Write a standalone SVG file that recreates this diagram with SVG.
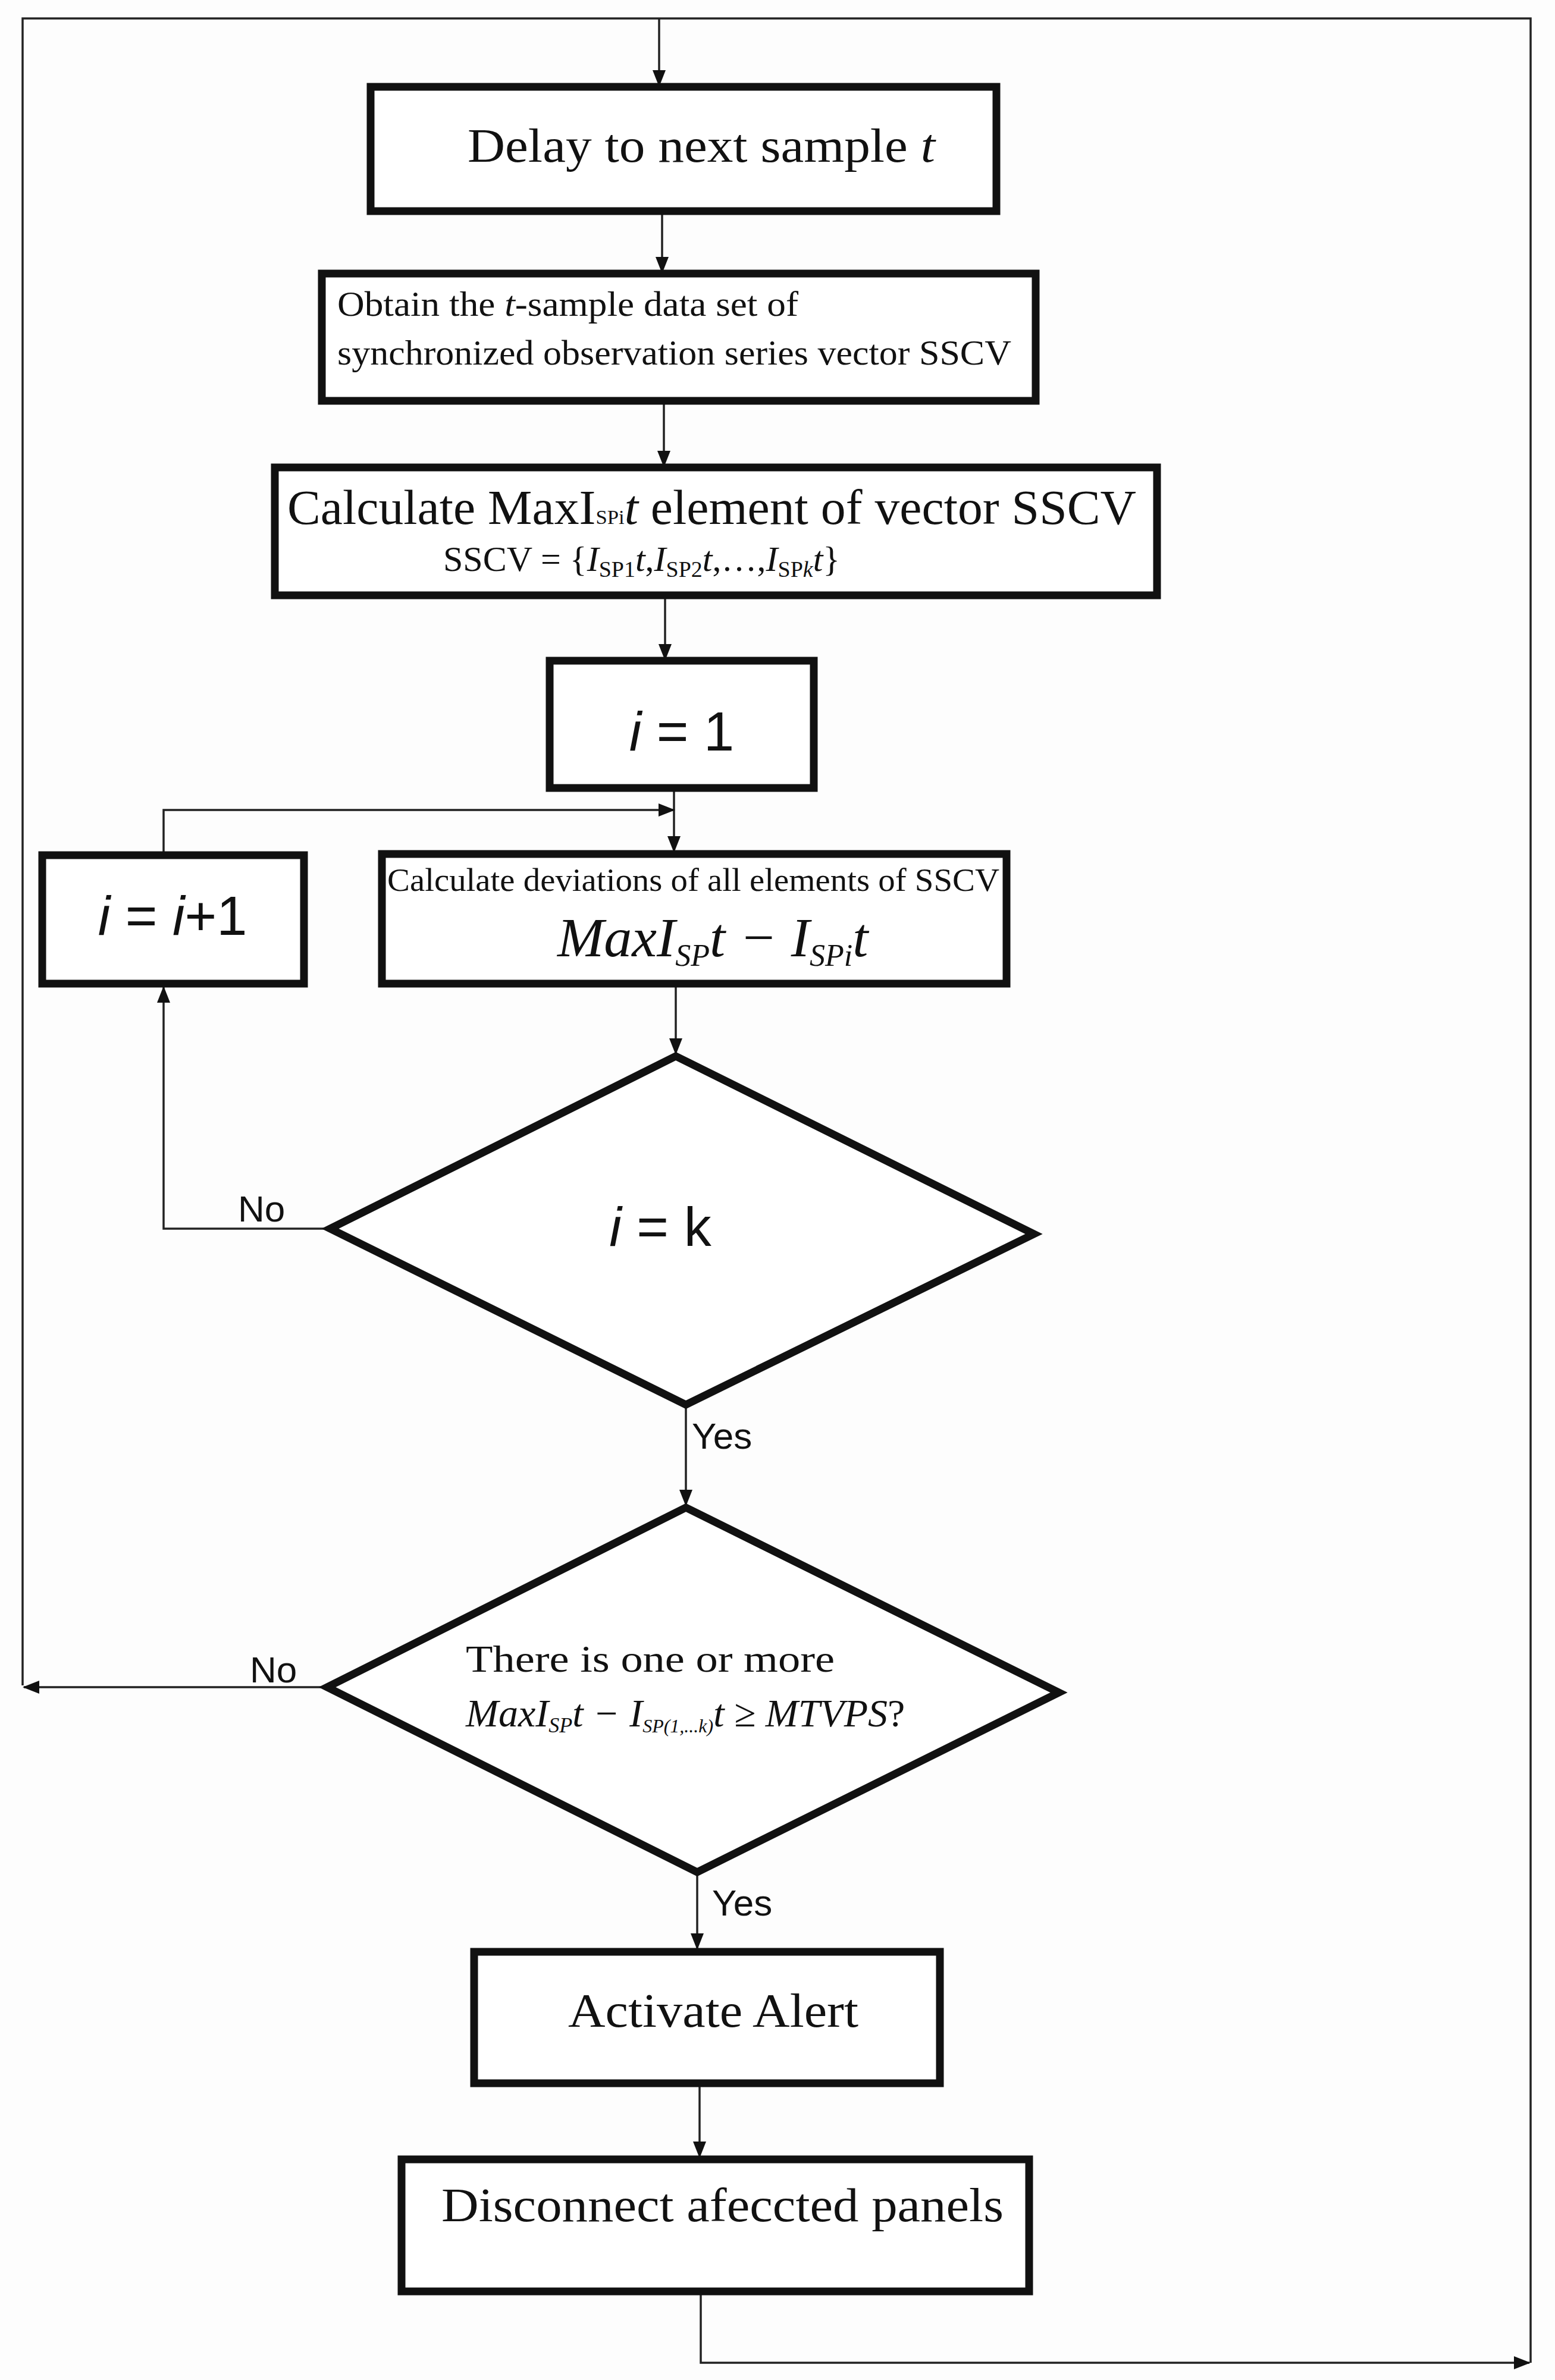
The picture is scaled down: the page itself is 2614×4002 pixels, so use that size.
<svg xmlns="http://www.w3.org/2000/svg" width="2614" height="4002" viewBox="0 0 2614 4002">
<style>
.box{fill:#fff;stroke:#111;stroke-width:13}
.ln{fill:none;stroke:#222;stroke-width:3.5}
.sf{font-family:"Liberation Serif",serif;fill:#111}
.ss{font-family:"Liberation Sans",Arial,sans-serif;fill:#111}
.it{font-style:italic}
</style>
<defs>
<marker id="ah" markerUnits="userSpaceOnUse" markerWidth="28" markerHeight="22" refX="26" refY="11" orient="auto">
<path d="M0,0 L28,11 L0,22 z" fill="#111"/>
</marker>
</defs>
<rect x="0" y="0" width="2614" height="4002" fill="#fdfdfd"/>
<g id="connectors">
<polyline class="ln" points="38,2834 38,31 2573,31 2573,3973"/>
<line class="ln" x1="1108" y1="31" x2="1108" y2="144" marker-end="url(#ah)"/>
<line class="ln" x1="1113" y1="355" x2="1113" y2="458" marker-end="url(#ah)"/>
<line class="ln" x1="1116" y1="674" x2="1116" y2="784" marker-end="url(#ah)"/>
<line class="ln" x1="1118" y1="1001" x2="1118" y2="1109" marker-end="url(#ah)"/>
<line class="ln" x1="1133" y1="1325" x2="1133" y2="1432" marker-end="url(#ah)"/>
<polyline class="ln" points="275,1438 275,1362 1133,1362" marker-end="url(#ah)"/>
<line class="ln" x1="1136" y1="1654" x2="1136" y2="1772" marker-end="url(#ah)"/>
<polyline class="ln" points="555,2066 275,2066 275,1660" marker-end="url(#ah)"/>
<line class="ln" x1="1153" y1="2362" x2="1153" y2="2531" marker-end="url(#ah)"/>
<line class="ln" x1="550" y1="2837" x2="40" y2="2837" marker-end="url(#ah)"/>
<line class="ln" x1="1172" y1="3147" x2="1172" y2="3277" marker-end="url(#ah)"/>
<line class="ln" x1="1176" y1="3503" x2="1176" y2="3627" marker-end="url(#ah)"/>
<polyline class="ln" points="1178,3853 1178,3973 2571,3973" marker-end="url(#ah)"/>
<text class="ss" x="400" y="2054" font-size="62">No</text>
<text class="ss" x="1163" y="2436" font-size="62">Yes</text>
<text class="ss" x="420" y="2829" font-size="62">No</text>
<text class="ss" x="1197" y="3221" font-size="62">Yes</text>
</g>
<g id="delay">
<rect class="box" x="623" y="146" width="1052" height="209"/>
<text class="sf" x="786" y="272" font-size="80" textLength="786" lengthAdjust="spacingAndGlyphs">Delay to next sample <tspan class="it">t</tspan></text>
</g>
<g id="obtain">
<rect class="box" x="541" y="460" width="1200" height="214"/>
<text class="sf" x="567" y="531" font-size="60" textLength="775" lengthAdjust="spacingAndGlyphs">Obtain the <tspan class="it">t</tspan>-sample data set of</text>
<text class="sf" x="567" y="613" font-size="60" textLength="1133" lengthAdjust="spacingAndGlyphs">synchronized observation series vector SSCV</text>
</g>
<g id="calcmax">
<rect class="box" x="462" y="786" width="1483" height="215"/>
<text class="sf" x="483" y="881" font-size="82" textLength="1427" lengthAdjust="spacingAndGlyphs">Calculate MaxI<tspan font-size="34">SPi</tspan><tspan class="it">t</tspan> element of vector SSCV</text>
<text class="sf" x="745" y="960" font-size="60">SSCV = {<tspan class="it">I</tspan><tspan font-size="38" dy="10">SP1</tspan><tspan class="it" dy="-10">t</tspan>,<tspan class="it">I</tspan><tspan font-size="38" dy="10">SP2</tspan><tspan class="it" dy="-10">t</tspan>,…,<tspan class="it">I</tspan><tspan font-size="38" dy="10">SP<tspan class="it">k</tspan></tspan><tspan class="it" dy="-10">t</tspan>}</text>
</g>
<g id="init">
<rect class="box" x="924" y="1111" width="444" height="214"/>
<text class="ss" x="1146" y="1262" font-size="92" text-anchor="middle"><tspan class="it">i</tspan> = 1</text>
</g>
<g id="incr">
<rect class="box" x="71" y="1438" width="440" height="216"/>
<text class="ss" x="290" y="1572" font-size="92" text-anchor="middle"><tspan class="it">i</tspan> = <tspan class="it">i</tspan>+1</text>
</g>
<g id="deviation">
<rect class="box" x="642" y="1436" width="1050" height="218"/>
<text class="sf" x="651" y="1498" font-size="54" textLength="1029" lengthAdjust="spacingAndGlyphs">Calculate deviations of all elements of SSCV</text>
<text class="sf it" x="937" y="1608" font-size="94">MaxI<tspan font-size="52" dy="16">SP</tspan><tspan dy="-16">t − I</tspan><tspan font-size="52" dy="16">SPi</tspan><tspan dy="-16">t</tspan></text>
</g>
<g id="decision1">
<polygon points="1136,1776 1738,2075 1153,2362 555,2066" fill="#fff" stroke="#111" stroke-width="13" stroke-linejoin="miter"/>
<text class="ss" x="1110" y="2095" font-size="92" text-anchor="middle"><tspan class="it">i</tspan> = k</text>
</g>
<g id="decision2">
<polygon points="1153,2535 1780,2846 1172,3148 550,2837" fill="#fff" stroke="#111" stroke-width="13" stroke-linejoin="miter"/>
<text class="sf" x="783" y="2811" font-size="64" textLength="620" lengthAdjust="spacingAndGlyphs">There is one or more</text>
<text class="sf" x="783" y="2903" font-size="66"><tspan class="it">MaxI</tspan><tspan class="it" font-size="36" dy="10">SP</tspan><tspan class="it" dy="-10">t − I</tspan><tspan class="it" font-size="32" dy="10">SP(1,...k)</tspan><tspan class="it" dy="-10">t ≥ MTVPS</tspan>?</text>
</g>
<g id="alert">
<rect class="box" x="797" y="3282" width="783" height="221"/>
<text class="sf" x="955" y="3408" font-size="80" textLength="488" lengthAdjust="spacingAndGlyphs">Activate Alert</text>
</g>
<g id="disconnect">
<rect class="box" x="675" y="3631" width="1055" height="222"/>
<text class="sf" x="742" y="3735" font-size="80" textLength="945" lengthAdjust="spacingAndGlyphs">Disconnect afeccted panels</text>
</g>
</svg>
